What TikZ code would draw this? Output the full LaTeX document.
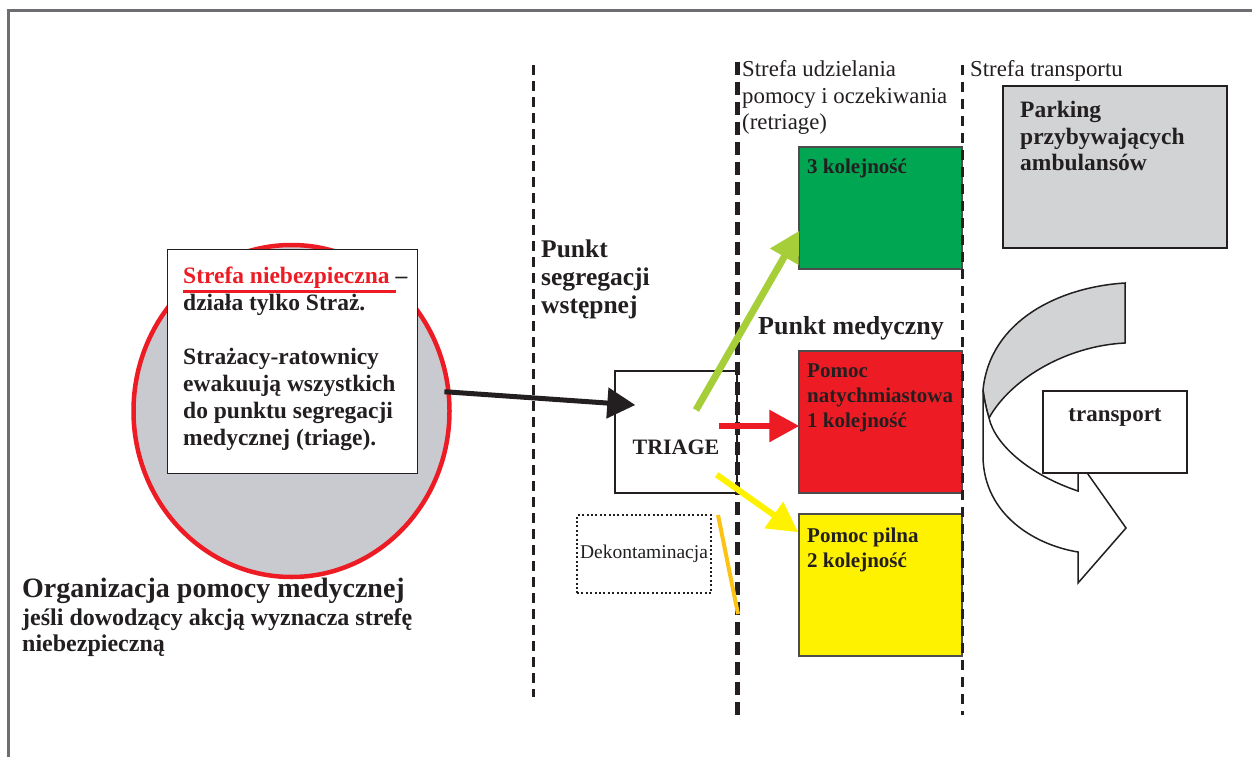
\documentclass[tikz,border=0pt]{standalone}
\usepackage{fontspec}
\setmainfont{Liberation Serif}
\usetikzlibrary{calc,arrows.meta}
\definecolor{zink}{HTML}{231F20}
\definecolor{zframe}{HTML}{6D6E71}
\definecolor{zred}{HTML}{ED1C24}
\definecolor{zcircle}{HTML}{C8CACF}
\definecolor{zgreen}{HTML}{00A651}
\definecolor{zyellow}{HTML}{FFF200}
\definecolor{zlime}{HTML}{A6CE39}
\definecolor{zgold}{HTML}{FCC315}
\definecolor{zgray}{HTML}{D1D3D4}
\newcommand\dangerline[1]{\setbox0\hbox{#1\ }\rlap{\rule[-10pt]{\wd0}{3pt}}#1}
\tikzset{
	zonebox/.style={draw=zink, line width=1.4pt, fill=white},
	prio/.style={draw=zink!80, line width=1.5pt, minimum width=163},
	txt/.style={anchor=north west, align=left},
	priotext/.style={txt, font=\bfseries\fontsize{21}{25}\selectfont},
	zonetitle/.style={txt, font=\fontsize{22.8}{26.5}\selectfont},
	feed/.style={line width=#1, -{Triangle[length=30pt,width=31pt]}}
}
\begin{document}
\begin{tikzpicture}[x=1pt,y=-1pt, every node/.style={text=zink, inner sep=0pt}]
\useasboundingbox (0,0) rectangle (1252,757);
\draw[zframe, line width=2.5pt] (1252,10.5) -- (8.5,10.5) -- (8.5,757);

% strefa niebezpieczna
\draw[zred, line width=4.5pt, fill=zcircle] (291.5,411) ellipse (158 and 166);
\node[zonebox, minimum width=250, minimum height=224, anchor=north west] (zone) at (167,249) {};
\node[txt, font=\bfseries\fontsize{23.5}{27}\selectfont] (zonetext) at (183,266.5)
	{{\color{zred}\dangerline{Strefa niebezpieczna}} –\\ działa tylko Straż.\\[27pt]
	Strażacy-ratownicy\\ ewakuują wszystkich\\ do punktu segregacji\\ medycznej (triage).};
\node[txt, font=\bfseries\fontsize{28}{30}\selectfont] (title) at (22,577.5) {Organizacja pomocy medycznej};
\node[txt, font=\bfseries\fontsize{24}{26.5}\selectfont] (subtitle) at (22,608)
	{jeśli dowodzący akcją wyznacza strefę\\ niebezpieczną};

% segregacja
\node[txt, font=\bfseries\fontsize{25.5}{28}\selectfont] (segr) at (541,240) {Punkt\\ segregacji\\ wstępnej};
\node[zonebox, minimum width=122, text height=83.3, text depth=38.7,
	font=\bfseries\fontsize{22}{25}\selectfont] (triage) at (676,432) {TRIAGE};
\node[draw=zink, dash pattern=on 2pt off 2.4pt, line width=2pt, minimum width=134, minimum height=78,
	font=\fontsize{19.5}{22}\selectfont] (deko) at (644,554) {Dekontaminacja};

% punkt medyczny
\node[zonetitle] (retriage) at (742,60.7) {Strefa udzielania\\ pomocy i oczekiwania\\ (retriage)};
\node[txt, font=\bfseries\fontsize{26}{29}\selectfont] (medic) at (758,316.5) {Punkt medyczny};
\node[prio, fill=zgreen, minimum height=122] (green) at (880.5,208) {};
\node[prio, fill=zred, minimum height=142] (red) at (880.5,422) {};
\node[prio, fill=zyellow, minimum height=142] (yellow) at (880.5,585) {};
\node[priotext] (greentext) at (807,159) {3 kolejność};
\node[priotext] (redtext) at (807,364) {Pomoc\\ natychmiastowa\\ 1 kolejność};
\node[priotext] (yellowtext) at (807,527.5) {Pomoc pilna\\ 2 kolejność};

% transport
\node[zonetitle] (transzone) at (970,60.7) {Strefa transportu};
\node[draw=zink, line width=1.8pt, fill=zgray, minimum width=224, minimum height=162] (parking) at (1115,167) {};
\node[txt, font=\bfseries\fontsize{23.5}{26.5}\selectfont] (parkingtext) at (1020,101)
	{Parking\\ przybywających\\ ambulansów};
\draw[zink, line width=1.5pt, fill=zgray] (1125,283) .. controls (1060,287) and (990,320) .. (983,390)
	.. controls (984,398) and (986,408) .. (989,418) .. controls (1010,380) and (1065,346) .. (1125,343) -- cycle;
\draw[zink, line width=1.5pt, fill=white] (983,390) -- (983,457) .. controls (984,515) and (1035,545) .. (1078,552)
	-- (1078,583) -- (1126,528) -- (1078,460) -- (1078,491) .. controls (1030,475) and (995,445) .. (989,418)
	.. controls (986,408) and (984,398) .. (983,390) -- cycle;
\node[zonebox, minimum width=144, text height=30, text depth=52,
	font=\bfseries\fontsize{23}{26}\selectfont] (transport) at (1115,432) {transport};

% granice stref
\draw[zink, line width=3pt, dash pattern=on 10pt off 6pt] (533,65) -- (533,697);
\draw[zink, line width=4.5pt, dash pattern=on 13pt off 7pt] (737.5,62) -- (737.5,720);
\draw[zink, line width=3pt, dash pattern=on 10pt off 7pt] (962,65) -- (962,715);

% strzalki
\draw[zink, line width=5pt, -{Triangle[length=28pt,width=30pt]}] ($(zone.east)+(26,30)$) -- ($(triage.west)+(21,-27)$);
\draw[zlime, feed=7pt] ($(triage.center)+(20,-22)$) -- ($(green.south west)+(1,-39)$);
\draw[zred, feed=6pt] ($(triage.east)+(-19,-6)$) -- ($(red.west)+(1,4)$);
\draw[zyellow, feed=6pt] ($(triage.south east)+(-21,-19)$) -- ($(yellow.north west)+(0,19)$);
\draw[zgold, line width=4pt] (718,515) -- (738,614);
\end{tikzpicture}
\end{document}
